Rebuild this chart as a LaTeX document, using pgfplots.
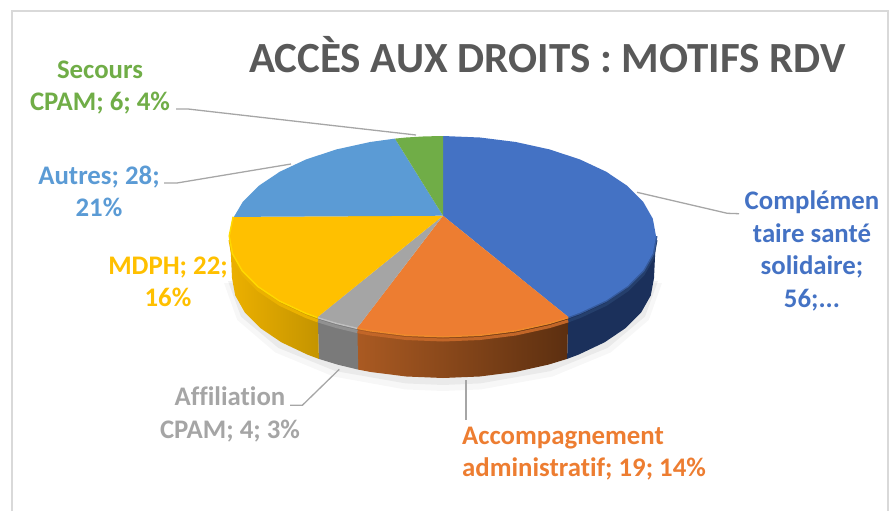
\documentclass[border=0pt]{standalone}
\usepackage{pgfplots}
\pgfplotsset{compat=1.18}
\usepackage{fontspec}
\setmainfont{Carlito}[Ligatures=CommonOff]
\definecolor{cblue}{HTML}{4472C4}
\definecolor{corange}{HTML}{ED7D31}
\definecolor{cgrey}{HTML}{A5A5A5}
\definecolor{cyellow}{HTML}{FFC000}
\definecolor{clblue}{HTML}{5B9BD5}
\definecolor{cgreen}{HTML}{70AD47}
\definecolor{ctitle}{HTML}{595959}
\definecolor{cline}{HTML}{A6A6A6}
\definecolor{cframe}{HTML}{D9D9D9}
\tikzset{
  lbl/.style={font=\fontsize{26.8}{30}\selectfont\bfseries, anchor=base, inner sep=0pt},
  lead/.style={color=cline, line width=1.3pt, line join=round},
}
\begin{document}
\begin{tikzpicture}
\begin{axis}[
  scale only axis, width=895pt, height=511pt,
  xmin=0, xmax=895, ymin=0, ymax=511, y dir=reverse,
  hide axis, clip=false,
]
\path (axis cs:0,0) rectangle (axis cs:895,511);
% frame
\addplot[color=cframe, line width=2pt] coordinates {(11.5,511)(11.5,10.5)(887.5,10.5)(887.5,511)};
% shadow
\addplot[fill=black, fill opacity=0.03, draw=none] coordinates {(662,283)(648.8,319.9)(610.8,352.4)(552.5,376.5)(481,389.4)(443,391)(405,389.4)(333.5,376.5)(275.2,352.4)(237.2,319.9)(224,283)} -- cycle;
\addplot[fill=black, fill opacity=0.05, draw=none] coordinates {(658,281)(645,316.6)(607.7,347.9)(550.5,371.1)(480.3,383.4)(443,385)(405.7,383.4)(335.5,371.1)(278.3,347.9)(241,316.6)(228,281)} -- cycle;
% walls
\addplot[fill={rgb,255:red,27;green,48;blue,91}, draw=none] coordinates {(656,236)(652.8,253.4)(643.2,270.2)(627.5,286)(606.2,300.3)(579.9,312.6)(568.2,316.9)(567.1,358.9)(578.6,354.6)(604.6,342.3)(625.7,328)(641.3,312.2)(650.8,295.4)(654,278)} -- cycle;
\addplot[left color={rgb,255:red,170;green,90;blue,34}, right color={rgb,255:red,92;green,47;blue,16}, draw=none] coordinates {(568.2,316.9)(549.5,322.6)(515.8,330)(480,334.5)(443,336)(406,334.5)(370.2,330)(357.4,327.6)(358.2,369.6)(370.8,372)(406.4,376.5)(443,378)(479.6,376.5)(515.2,372)(548.5,364.6)(567.1,358.9)} -- cycle;
\addplot[fill={rgb,255:red,122;green,122;blue,122}, draw=none] coordinates {(357.4,327.6)(336.5,322.6)(317.8,316.9)(318.9,358.9)(337.5,364.6)(358.2,369.6)} -- cycle;
\addplot[left color={rgb,255:red,236;green,176;blue,0}, right color={rgb,255:red,196;green,148;blue,0}, draw=none] coordinates {(317.8,316.9)(306.1,312.6)(279.8,300.3)(258.5,286)(242.8,270.2)(233.2,253.4)(230,236)(232,278)(235.2,295.4)(244.7,312.2)(260.3,328)(281.4,342.3)(307.4,354.6)(318.9,358.9)} -- cycle;
% bevel bands
\addplot[color=cblue!55!black, line width=3pt] coordinates {(656,240)(652.8,257.4)(643.2,274.2)(627.5,290)(606.2,304.3)(579.9,316.6)(568.2,320.9)};
\addplot[color=corange!82!black, line width=3pt] coordinates {(568.2,320.9)(549.5,326.6)(515.8,334)(480,338.5)(443,340)(406,338.5)(370.2,334)(357.4,331.6)};
\addplot[color=cgrey!88!black, line width=3pt] coordinates {(357.4,331.6)(336.5,326.6)(317.8,320.9)};
\addplot[color=cyellow!92!black, line width=3pt] coordinates {(317.8,320.9)(306.1,316.6)(279.8,304.3)(258.5,290)(242.8,274.2)(233.2,257.4)(230,240)};
\addplot[color=cblue!80!black, line width=3pt] coordinates {(656,236)(652.8,253.4)(643.2,270.2)(627.5,286)(606.2,300.3)(579.9,312.6)(568.2,316.9)};
\addplot[color=corange!90!yellow, line width=3pt] coordinates {(568.2,316.9)(549.5,322.6)(515.8,330)(480,334.5)(443,336)(406,334.5)(370.2,330)(357.4,327.6)};
\addplot[color=cgrey!70!white, line width=3pt] coordinates {(357.4,327.6)(336.5,322.6)(317.8,316.9)};
\addplot[color=cyellow!60!yellow, line width=3pt] coordinates {(317.8,316.9)(306.1,312.6)(279.8,300.3)(258.5,286)(242.8,270.2)(233.2,253.4)(230,236)(233.9,216.9)};
% top slices: Complémentaire santé solidaire 56, Accompagnement 19, Affiliation 4, MDPH 22, Autres 28, Secours 6
\addplot[fill=cblue, draw=none] coordinates {(443,215.7)(443,136)(480,137.5)(515.8,142)(549.5,149.4)(579.9,159.4)(606.2,171.7)(627.5,186)(643.2,201.8)(652.8,218.6)(656,236)(652.8,253.4)(643.2,270.2)(627.5,286)(606.2,300.3)(579.9,312.6)(568.2,316.9)} -- cycle;
\addplot[fill=corange, draw=none] coordinates {(443,215.7)(568.2,316.9)(549.5,322.6)(515.8,330)(480,334.5)(443,336)(406,334.5)(370.2,330)(357.4,327.6)} -- cycle;
\addplot[fill=cgrey, draw=none] coordinates {(443,215.7)(357.4,327.6)(336.5,322.6)(317.8,316.9)} -- cycle;
\addplot[fill=cyellow, draw=none] coordinates {(443,215.7)(317.8,316.9)(306.1,312.6)(279.8,300.3)(258.5,286)(242.8,270.2)(233.2,253.4)(230,236)(233.9,216.9)} -- cycle;
\addplot[fill=clblue, draw=none] coordinates {(443,215.7)(233.9,216.9)(242.8,201.8)(258.5,186)(279.8,171.7)(306.1,159.4)(336.5,149.4)(370.2,142)(395,138.6)} -- cycle;
\addplot[fill=cgreen, draw=none] coordinates {(443,215.7)(395,138.6)(406,137.5)(424.4,136.4)(443,136)} -- cycle;
% leaders
\addplot[lead] coordinates {(176,109)(188,109)(416,135)};
\addplot[lead] coordinates {(164,183)(177,183)(291,164)};
\addplot[lead] coordinates {(637,192.3)(727.3,213.3)(739,213.7)};
\addplot[lead] coordinates {(290,405.3)(302.3,405.3)(339.3,369.3)};
\addplot[lead] coordinates {(466,380)(466,420)};
% title
\node[font=\fontsize{43}{46}\selectfont\bfseries, text=ctitle, anchor=base, inner sep=0pt] at (axis cs:547.5,72) {ACCÈS AUX DROITS : MOTIFS RDV};
% labels
\node[lbl, text=cgreen] at (axis cs:100,78) {Secours};
\node[lbl, text=cgreen] at (axis cs:100,110) {CPAM; 6; 4\%};
\node[lbl, text=clblue] at (axis cs:99,184) {Autres; 28;};
\node[lbl, text=clblue] at (axis cs:99,216) {21\%};
\node[lbl, text=cyellow] at (axis cs:168,274) {MDPH; 22;};
\node[lbl, text=cyellow] at (axis cs:168,306) {16\%};
\node[lbl, text=cblue] at (axis cs:812,209) {Complémen};
\node[lbl, text=cblue] at (axis cs:812,242) {taire santé};
\node[lbl, text=cblue] at (axis cs:812,274) {solidaire;};
\node[lbl, text=cblue] at (axis cs:812,307) {56;...};
\node[lbl, text=cgrey] at (axis cs:230,405) {Affiliation};
\node[lbl, text=cgrey] at (axis cs:230,438) {CPAM; 4; 3\%};
\node[lbl, text=corange, anchor=base west] at (axis cs:462,444) {Accompagnement};
\node[lbl, text=corange, anchor=base west] at (axis cs:462,476) {administratif; 19; 14\%};
\end{axis}
\end{tikzpicture}
\end{document}
